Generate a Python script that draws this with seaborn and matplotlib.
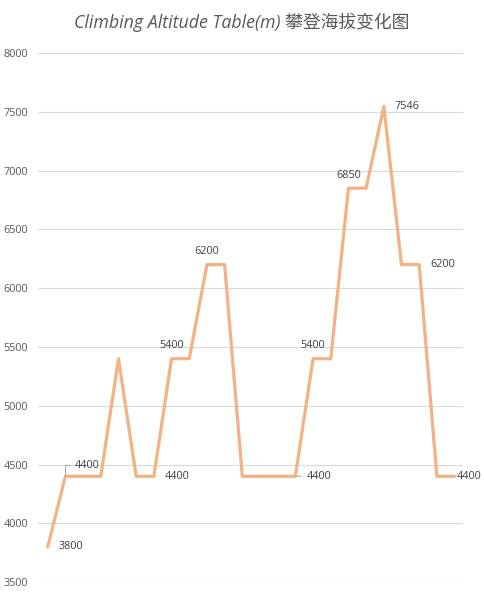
import matplotlib
matplotlib.use("Agg")
import matplotlib.pyplot as plt
import pandas as pd
import seaborn as sns

# altitude readings, one per stage
stage = list(range(24))
altitude = [3800, 4400, 4400, 4400, 5400, 4400, 4400, 5400, 5400, 6200, 6200, 4400,
            4400, 4400, 4400, 5400, 5400, 6850, 6850, 7546, 6200, 6200, 4400, 4400]

# which points carry a value label, and where it sits
label_idx = [0, 1, 6, 7, 9, 14, 15, 17, 19, 21, 23]
label_pos = ['right', 'leader_up', 'right', 'above', 'above', 'leader', 'above', 'above',
             'right', 'right', 'edge']

df = pd.DataFrame({'stage': stage, 'altitude': altitude})

sns.set_style('white')
plt.rcParams['font.family'] = ['Open Sans', 'Noto Sans CJK SC', 'DejaVu Sans']

fig = plt.figure(figsize=(4.84, 6.16), dpi=100)
ax = fig.add_axes([0.0785, 0.055, 0.879, 0.859])

sns.lineplot(data=df, x='stage', y='altitude', color='#F4B183', linewidth=2.3, ax=ax)

ax.set_xlim(-0.55, 23.5)
ax.set_ylim(3500, 8000)
ax.set_yticks(range(3500, 8001, 500))
ax.set_xticks([])
ax.set_xlabel('')
ax.set_ylabel('')
ax.grid(axis='y', color='#d9d9d9', linewidth=0.8)
ax.set_axisbelow(True)
for s in ax.spines.values():
    s.set_visible(False)
ax.tick_params(axis='y', length=0, pad=25, labelsize=7.8, labelcolor='#595959')
for t in ax.get_yticklabels():
    t.set_ha('left')

txt = dict(fontsize=7.8, color='#404040')
for i, pos in zip(label_idx, label_pos):
    x, y = stage[i], altitude[i]
    s = str(y)
    if pos == 'right':
        ax.annotate(s, (x, y), xytext=(8, 0), textcoords='offset points', ha='left', va='center', **txt)
    elif pos == 'edge':
        ax.annotate(s, (x, y), xytext=(1.5, 0), textcoords='offset points', ha='left', va='center', **txt)
    elif pos == 'above':
        ax.annotate(s, (x, y), xytext=(0, 9.5), textcoords='offset points', ha='center', va='center', **txt)
    elif pos == 'leader':
        ax.annotate(s, (x, y), xytext=(8.5, 0), textcoords='offset points', ha='left', va='center',
                    arrowprops=dict(arrowstyle='-', color='#a6a6a6', lw=0.8, shrinkA=2, shrinkB=1), **txt)
    elif pos == 'leader_up':
        ax.annotate(s, (x, y), xytext=(7, 8), textcoords='offset points', ha='left', va='center',
                    arrowprops=dict(arrowstyle='-', color='#a6a6a6', lw=0.8, shrinkA=1, shrinkB=1,
                                    connectionstyle='angle,angleA=0,angleB=90,rad=0'), **txt)

fig.text(0.5, 0.964, 'Climbing Altitude Table(m) 攀登海拔变化图', ha='center', va='center',
         fontsize=12.8, style='italic', color='#595959')

fig.savefig('out.png', dpi=100, facecolor='white')
